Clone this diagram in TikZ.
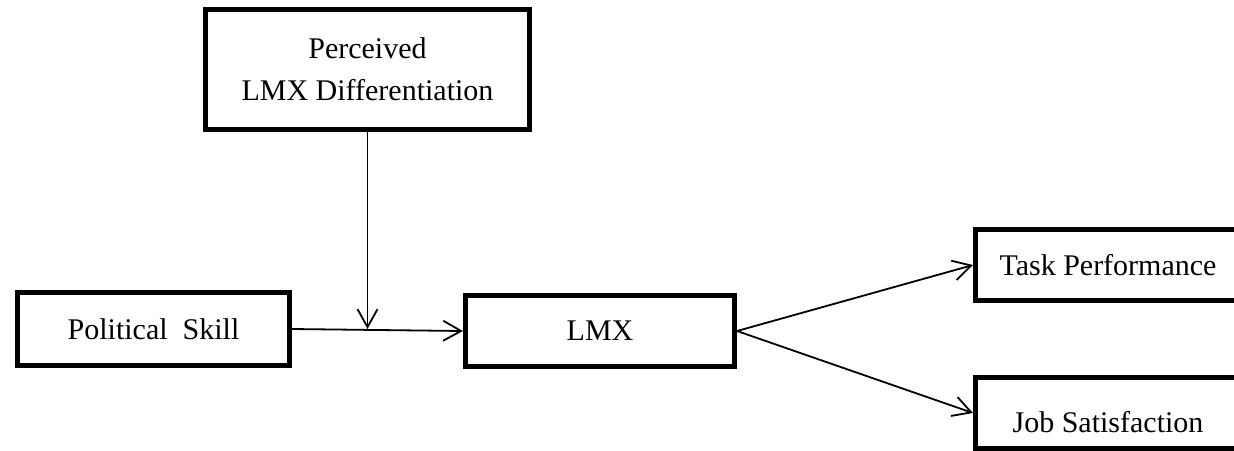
\documentclass[tikz,border=0pt]{standalone}
\usepackage{fontspec}
\setmainfont{Liberation Serif}
\usepackage{tikz}
\usetikzlibrary{arrows.meta}

\begin{document}
\begin{tikzpicture}[x=0.5pt, y=-0.5pt,
		font=\fontsize{15}{21}\selectfont,
		varbox/.style={draw, line width=2.5pt, align=center, inner sep=0pt},
		link/.style={-{Straight Barb[length=9pt, width=10pt]}, line width=0.9pt}]
		\useasboundingbox (0,0) rectangle (1234,450);
		\clip (0,0) rectangle (1234,450);

		% Moderator box
		\node[varbox, minimum width=162pt, minimum height=60pt] (perc) at (367.5,69.5) {
				Perceived\\LMX Differentiation
			};

		% Predictor and mediator
		\node[varbox, minimum width=136pt, minimum height=36.5pt] (pol) at (153.5,329) {Political\ \ Skill};
		\node[varbox, minimum width=134.5pt, minimum height=35.5pt] (lmx) at (600,331) {LMX};

		% Outcome boxes
		\node[varbox, minimum width=132.5pt, minimum height=35.5pt] (task) at (1108,265) {Task Performance};
		\node[varbox, minimum width=132.5pt, minimum height=35.5pt, text height=19pt, text depth=0pt] (job) at (1108,413) {Job Satisfaction};

		% Arrows
		\draw[link] (pol.east) -- (lmx.west);
		\draw[link] (perc.south) -- (perc.south |- pol.east);
		\draw[link] (lmx.east) -- (task.west);
		\draw[link] (lmx.east) -- (job.west);
	\end{tikzpicture}
\end{document}
